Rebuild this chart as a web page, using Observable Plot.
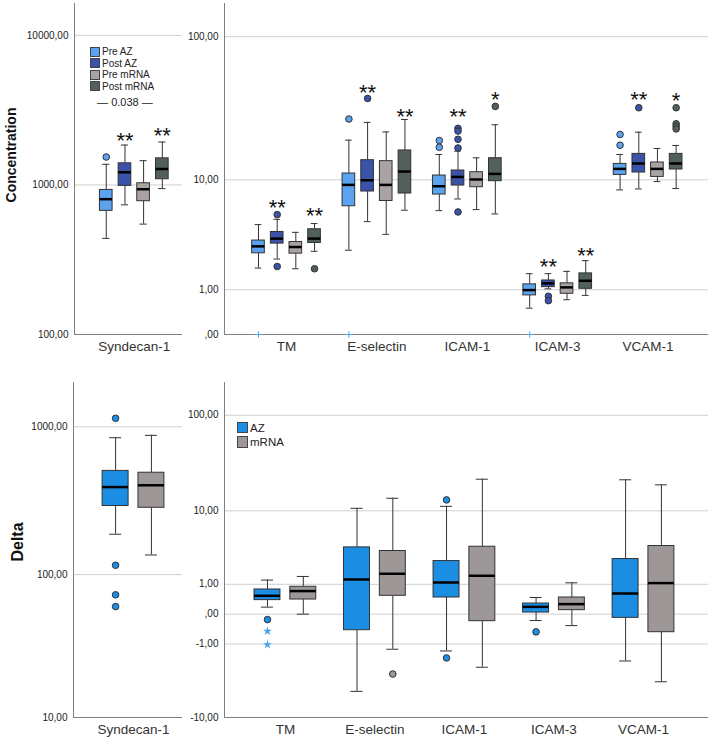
<!DOCTYPE html>
<html>
<head>
<meta charset="utf-8">
<script src="https://cdn.jsdelivr.net/npm/d3@7"></script>
<script src="https://cdn.jsdelivr.net/npm/@observablehq/plot@0.6"></script>
<style>
  body { margin: 0; background: #fff; }
  #chart { position: relative; width: 708px; height: 744px; font-family: "Liberation Sans", Arial, sans-serif; overflow: hidden; }
  #chart svg { position: absolute; overflow: visible; }
  #chart [aria-label^="x-axis"] text { font-size: 13.5px; fill: #333; }
  #chart [aria-label^="y-axis"] text { font-size: 10px; fill: #222; }
  .ytitle { position: absolute; font-weight: bold; color: #111; white-space: nowrap; transform: translate(-50%, -50%) rotate(-90deg); }
  .leg { position: absolute; display: flex; align-items: center; color: #222; white-space: nowrap; }
  .leg span.sw { display: inline-block; box-sizing: border-box; border: 1px solid #444; margin-right: 2px; }
</style>
</head>
<body>
<div id="chart"></div>
<script>
// ---------------- DATA ----------------
const seriesConc = ["Pre AZ", "Post AZ", "Pre mRNA", "Post mRNA"];
const seriesDelta = ["AZ", "mRNA"];
const synCats = ["Syndecan-1"];
const markerCats = ["TM", "E-selectin", "ICAM-1", "ICAM-3", "VCAM-1"];

// Concentration, Syndecan-1 (one row per category, one column per series)
const synConcLo  = [[439, 736, 547, 945]];
const synConcQ1  = [[671, 985, 778, 1091]];
const synConcMed = [[803, 1215, 936, 1278]];
const synConcQ3  = [[926, 1395, 1026, 1506]];
const synConcHi  = [[1374, 1848, 1452, 1935]];
const synConcOutliers = [["Syndecan-1", "Pre AZ", 1537]];
const synConcStars = [["Syndecan-1", "Post AZ", "**", 2154], ["Syndecan-1", "Post mRNA", "**", 2327]];
const synConcNote = [["Syndecan-1", "Pre AZ", "Pre mRNA", "— 0.038 —", 3559]];

// Concentration, other markers
const concLo  = [[1.80, 2.22, 1.77, 2.63], [2.69, 4.75, 3.72, 5.86], [5.82, 7.17, 5.93, 5.48], [0.504, 1.03, 0.714, 0.833], [8.40, 8.54, 9.7, 8.6]];
const concQ1  = [[2.52, 3.09, 2.50, 3.13], [6.30, 8.17, 6.92, 7.89], [7.75, 9.06, 8.80, 9.76], [0.833, 1.084, 0.88, 1.03], [10.86, 11.31, 10.50, 11.90]];
const concMed = [[2.92, 3.42, 2.88, 3.42], [9.16, 9.92, 9.16, 11.5], [8.95, 10.5, 10.05, 11.05], [0.99, 1.21, 1.075, 1.30], [12.02, 13.16, 12.02, 13.16]];
const concQ3  = [[3.29, 3.90, 3.19, 4.11], [11.12, 13.9, 13.68, 16.33], [10.75, 11.7, 11.37, 14.37], [1.175, 1.31, 1.21, 1.578], [13.07, 15.43, 13.38, 15.43]];
const concHi  = [[4.49, 4.96, 3.87, 4.58], [19.33, 25.76, 22.1, 27.0], [15.28, 16.14, 14.45, 24.8], [1.567, 1.567, 1.66, 2.14], [15.28, 22.0, 16.87, 17.72]];
const concOutliers = [
  ["TM", "Post AZ", 5.41], ["TM", "Post AZ", 1.87], ["TM", "Post mRNA", 1.77],
  ["E-selectin", "Pre AZ", 27.2], ["E-selectin", "Post AZ", 37.8],
  ["ICAM-1", "Pre AZ", 19.2], ["ICAM-1", "Pre AZ", 17.2],
  ["ICAM-1", "Post AZ", 23.4], ["ICAM-1", "Post AZ", 22.4], ["ICAM-1", "Post AZ", 19.6], ["ICAM-1", "Post AZ", 17.0], ["ICAM-1", "Post AZ", 5.68],
  ["ICAM-1", "Post mRNA", 33.3],
  ["ICAM-3", "Post AZ", 0.81], ["ICAM-3", "Post AZ", 0.69],
  ["VCAM-1", "Pre AZ", 17.8], ["VCAM-1", "Pre AZ", 21.2], ["VCAM-1", "Post AZ", 32.6],
  ["VCAM-1", "Post mRNA", 32.6], ["VCAM-1", "Post mRNA", 25.2], ["VCAM-1", "Post mRNA", 24.2], ["VCAM-1", "Post mRNA", 23.2]
];
const concExtremes = [["TM", "Pre AZ", 0], ["E-selectin", "Pre AZ", 0], ["ICAM-3", "Pre AZ", 0]];
const concStars = [
  ["TM", "Post AZ", "**", 6.8], ["TM", "Post mRNA", "**", 5.86],
  ["E-selectin", "Post AZ", "**", 45.3], ["E-selectin", "Post mRNA", "**", 30.9],
  ["ICAM-1", "Post AZ", "**", 30.9], ["ICAM-1", "Post mRNA", "*", 40.3],
  ["ICAM-3", "Post AZ", "**", 2.14], ["ICAM-3", "Post mRNA", "**", 2.72],
  ["VCAM-1", "Post AZ", "**", 40.7], ["VCAM-1", "Post mRNA", "*", 39.7]
];

// Delta, Syndecan-1
const synDeltaLo  = [[188, 136]];
const synDeltaQ1  = [[292, 284]];
const synDeltaMed = [[392, 403]];
const synDeltaQ3  = [[504, 490]];
const synDeltaHi  = [[844, 876]];
const synDeltaOutliers = [["Syndecan-1", "AZ", 1141], ["Syndecan-1", "AZ", 115.8], ["Syndecan-1", "AZ", 72.8], ["Syndecan-1", "AZ", 60.5]];

// Delta, other markers
const deltaLo  = [[0.177, 0], [-5.0, -1.257], [-1.349, -2.43], [-0.160, -0.304], [-1.963, -3.80]];
const deltaQ1  = [[0.385, 0.404], [-0.451, 0.531], [0.472, -0.177], [0.038, 0.097], [-0.090, -0.520]];
const deltaMed = [[0.531, 0.708], [1.236, 1.553], [1.085, 1.437], [0.185, 0.262], [0.615, 1.056]];
const deltaQ3  = [[0.773, 0.887], [3.71, 3.33], [2.43, 3.78], [0.280, 0.472], [2.594, 3.86]];
const deltaHi  = [[1.205, 1.398], [10.66, 13.72], [11.2, 21.9], [0.472, 1.07], [21.6, 19.1]];
const deltaOutliers = [["TM", "AZ", -0.134], ["E-selectin", "mRNA", -3.01], ["ICAM-1", "AZ", 13.17], ["ICAM-1", "AZ", -1.763], ["ICAM-3", "AZ", -0.509]];
const deltaExtremes = [["TM", "AZ", -0.485], ["TM", "AZ", -1.03]];

// Tick values
const synConcTicks = [100, 1000, 10000];
const concTicks = [0, 1, 10, 100];
const synDeltaTicks = [10, 100, 1000];
const deltaTicks = [-10, -1, 0, 1, 10, 100];

// ---------------- STYLE ----------------
const colorsConc = ["#5ba3ee", "#3b52a9", "#a9a3a1", "#52605b"];
const colorsDelta = ["#1b8de2", "#9d9797"];
const extremeColor = "#4aa3ea";

const fmt = v => v === 0 ? ",00" : v.toFixed(2).replace(".", ",");

function panel(o) {
  const rows = [];
  o.cats.forEach((c, i) => o.series.forEach((s, j) => rows.push({
    x: i + o.offsets[j], lo: o.lo[i][j], q1: o.q1[i][j], med: o.med[i][j], q3: o.q3[i][j], hi: o.hi[i][j], fill: o.colors[j]
  })));
  const pos = (c, s) => o.cats.indexOf(c) + o.offsets[o.series.indexOf(s)];
  const out = (o.outliers || []).map(([c, s, v]) => ({x: pos(c, s), y: v, fill: o.colors[o.series.indexOf(s)]}));
  const ext = (o.extremes || []).map(([c, s, v]) => ({x: pos(c, s), y: v}));
  const stars = (o.stars || []).map(([c, s, t, v]) => ({x: pos(c, s), y: v, t}));
  const notes = (o.notes || []).map(([c, s1, s2, t, v]) => ({x: (pos(c, s1) + pos(c, s2)) / 2, y: v, t}));
  const hw = o.halfW, cw = o.capW;
  const marks = [
    Plot.ruleY(o.ticks.filter(t => t !== o.yDomain[0]), {y: d => d, stroke: "#cfcfcf", strokeWidth: 1}),
    Plot.ruleX(rows, {x: "x", y1: "lo", y2: "q1", stroke: "#333"}),
    Plot.ruleX(rows, {x: "x", y1: "q3", y2: "hi", stroke: "#333"}),
    Plot.ruleY(rows, {y: "lo", x1: d => d.x - cw, x2: d => d.x + cw, stroke: "#333"}),
    Plot.ruleY(rows, {y: "hi", x1: d => d.x - cw, x2: d => d.x + cw, stroke: "#333"}),
    Plot.rect(rows, {x1: d => d.x - hw, x2: d => d.x + hw, y1: "q1", y2: "q3", fill: "fill", stroke: "#333", strokeWidth: 1}),
    Plot.ruleY(rows, {y: "med", x1: d => d.x - hw, x2: d => d.x + hw, stroke: "#000", strokeWidth: 2.5}),
    Plot.dot(out, {x: "x", y: "y", r: 3.3, fill: "fill", stroke: "#333", strokeWidth: 1}),
    Plot.ruleX([o.xDomain[0]], {stroke: "#808080"}),
    Plot.ruleY([o.yDomain[0]], {stroke: "#808080"})
  ];
  if (ext.length) {
    marks.push(o.extremeSymbol === "star"
      ? Plot.dot(ext, {x: "x", y: "y", symbol: "star", r: 2.8, fill: extremeColor, stroke: "none"})
      : Plot.dot(ext, {x: "x", y: "y", symbol: "plus", r: 2.2, stroke: extremeColor, strokeWidth: 1}));
  }
  if (stars.length) marks.push(Plot.text(stars, {x: "x", y: "y", text: "t", fontSize: 22, lineAnchor: "middle", dy: 6, fill: "#111"}));
  if (notes.length) marks.push(Plot.text(notes, {x: "x", y: "y", text: "t", fontSize: 11, lineAnchor: "middle", fill: "#222"}));
  const svg = Plot.plot({
    width: o.width, height: o.height,
    marginLeft: o.marginLeft, marginRight: 0, marginTop: o.marginTop, marginBottom: o.marginBottom,
    style: {fontFamily: "'Liberation Sans', Arial, sans-serif", fontSize: "10px", background: "transparent", overflow: "visible"},
    x: {domain: o.xDomain, ticks: o.cats.map((_, i) => i), tickFormat: i => o.cats[i], tickSize: 0, tickPadding: o.xPad, label: null},
    y: Object.assign({domain: o.yDomain, ticks: o.ticks, tickFormat: fmt, tickSize: 0, tickPadding: 6, label: null}, o.yType),
    color: {type: "identity"},
    marks
  });
  svg.style.left = o.left + "px";
  svg.style.top = o.top + "px";
  return svg;
}

const chart = document.getElementById("chart");
const topOffsets = [-0.31, -0.103, 0.103, 0.31];
const botOffsets = [-0.2, 0.2];

chart.appendChild(panel({
  cats: synCats, series: seriesConc, colors: colorsConc,
  lo: synConcLo, q1: synConcQ1, med: synConcMed, q3: synConcQ3, hi: synConcHi,
  outliers: synConcOutliers, stars: synConcStars, notes: synConcNote,
  offsets: topOffsets, halfW: 0.07, capW: 0.04,
  yType: {type: "log"}, yDomain: [100, 16330], ticks: synConcTicks,
  xDomain: [-0.661, 0.533], xPad: 7,
  left: 0, top: 0, width: 182, height: 360, marginLeft: 74, marginTop: 3, marginBottom: 26
}));

chart.appendChild(panel({
  cats: markerCats, series: seriesConc, colors: colorsConc,
  lo: concLo, q1: concQ1, med: concMed, q3: concQ3, hi: concHi,
  outliers: concOutliers, extremes: concExtremes, stars: concStars, extremeSymbol: "plus",
  offsets: topOffsets, halfW: 0.07, capW: 0.037,
  yType: {type: "symlog", constant: 1}, yDomain: [0, 168], ticks: concTicks,
  xDomain: [-0.686, 4.668], xPad: 7,
  left: 182, top: 0, width: 526, height: 360, marginLeft: 42, marginTop: 3, marginBottom: 26
}));

chart.appendChild(panel({
  cats: synCats, series: seriesDelta, colors: colorsDelta,
  lo: synDeltaLo, q1: synDeltaQ1, med: synDeltaMed, q3: synDeltaQ3, hi: synDeltaHi,
  outliers: synDeltaOutliers,
  offsets: botOffsets, halfW: 0.145, capW: 0.067,
  yType: {type: "symlog", constant: 1}, yDomain: [10, 1990], ticks: synDeltaTicks,
  xDomain: [-0.67, 0.547], xPad: 7,
  left: 0, top: 370, width: 182, height: 374, marginLeft: 73, marginTop: 12, marginBottom: 27
}));

chart.appendChild(panel({
  cats: markerCats, series: seriesDelta, colors: colorsDelta,
  lo: deltaLo, q1: deltaQ1, med: deltaMed, q3: deltaQ3, hi: deltaHi,
  outliers: deltaOutliers, extremes: deltaExtremes, extremeSymbol: "star",
  offsets: botOffsets, halfW: 0.145, capW: 0.067,
  yType: {type: "symlog", constant: 1}, yDomain: [-10, 215], ticks: deltaTicks,
  xDomain: [-0.68, 4.726], xPad: 7,
  left: 182, top: 370, width: 526, height: 374, marginLeft: 42, marginTop: 12, marginBottom: 27
}));

// Axis titles
function addTitle(text, x, y, size) {
  const d = document.createElement("div");
  d.className = "ytitle";
  d.textContent = text;
  d.style.left = x + "px"; d.style.top = y + "px"; d.style.fontSize = size + "px";
  chart.appendChild(d);
}
addTitle("Concentration", 11, 155, 14);
addTitle("Delta", 18, 542, 16);

// Legends
function addLegend(names, colors, x, y0, step, sw, fs) {
  names.forEach((n, i) => {
    const d = document.createElement("div");
    d.className = "leg";
    d.style.left = x + "px";
    d.style.top = (y0 + i * step - sw / 2 - 1) + "px";
    d.style.fontSize = fs + "px";
    d.innerHTML = `<span class="sw" style="width:${sw}px;height:${sw}px;background:${colors[i]}"></span>${n}`;
    chart.appendChild(d);
  });
}
addLegend(seriesConc, colorsConc, 90, 52.3, 11.5, 10, 10);
addLegend(seriesDelta, colorsDelta, 236.5, 428.3, 14.4, 11.5, 11.5);
</script>
</body>
</html>
